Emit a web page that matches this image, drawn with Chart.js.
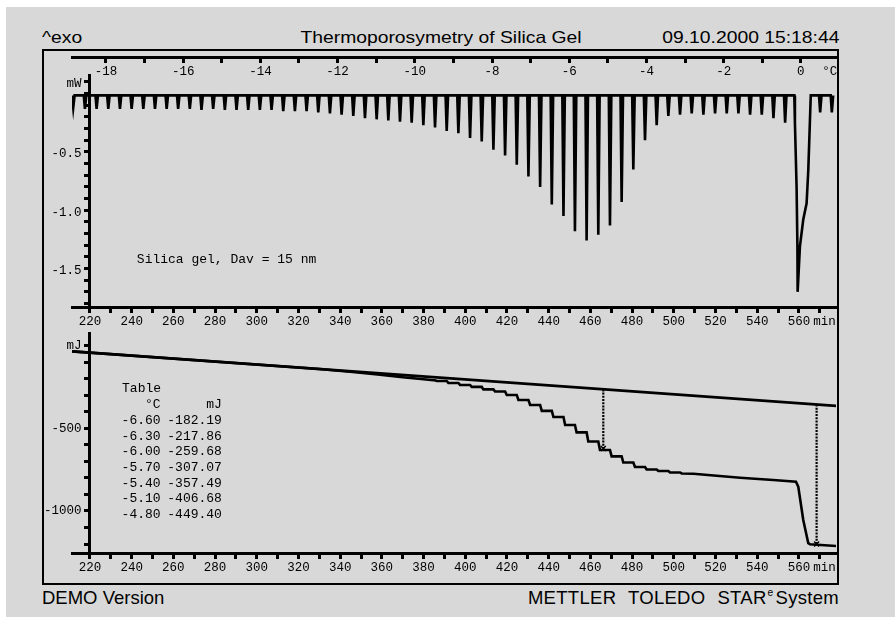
<!DOCTYPE html>
<html lang="en">
<head>
<meta charset="UTF-8">
<title>Thermoporosymetry of Silica Gel</title>
<script src="https://cdn.jsdelivr.net/npm/chart.js@4"></script>
<style>
  body { margin: 0; width: 895px; height: 618px; position: relative; overflow: hidden; background: #fff;
         font-family: "Liberation Sans", Arial, sans-serif; color: #000; }
  #sheet { position: absolute; left: 6px; top: 7px; right: 0; bottom: 1px; background: #d8d8d8; }
  #frame { position: absolute; left: 42px; top: 49px; width: 797px; height: 536px; border: 2px solid #000; box-sizing: border-box; }
  .hdr { position: absolute; top: 29px; font-size: 16.5px; line-height: 1; white-space: pre; }
  #exo { left: 42px; transform: scaleX(1.17); transform-origin: left; }
  #title { left: 440.5px; transform: translateX(-50%) scaleX(1.17); }
  #stamp { right: 56px; transform: scaleX(1.17); transform-origin: right; }
  .ftr { position: absolute; top: 589px; font-size: 18.5px; line-height: 1; white-space: pre; }
  #demo { left: 42px; }
  #brand { right: 56px; word-spacing: 6.5px; letter-spacing: 0.3px; }
  #brand sup { font-size: 0.55em; position: relative; top: -0.1em; margin: 0 2px 0 1px; }
  canvas { position: absolute; left: 0; top: 0; }
</style>
</head>
<body>
  <div id="sheet"></div>
  <div id="frame"></div>
  <div class="hdr" id="exo">^exo</div>
  <div class="hdr" id="title">Thermoporosymetry of Silica Gel</div>
  <div class="hdr" id="stamp">09.10.2000 15:18:44</div>
  <div class="ftr" id="demo">DEMO Version</div>
  <div class="ftr" id="brand">METTLER TOLEDO STAR<sup>e</sup>System</div>
  <canvas id="dsc" width="895" height="618"></canvas>
  <canvas id="integral" width="895" height="618"></canvas>
  <script>
    // ---- axes ----
    const timeMin = 211.4, timeMax = 577.8;
    const tempMin = -18.88, tempMax = 0.91;
    const mwMin = -1.83, mwMax = 0.16;
    const mjMin = -1254, mjMax = 76;
    const tempAxisLevel = 0.313;

    const timeTicks = [220, 230, 240, 250, 260, 270, 280, 290, 300, 310, 320, 330, 340, 350, 360, 370, 380, 390,
      400, 410, 420, 430, 440, 450, 460, 470, 480, 490, 500, 510, 520, 530, 540, 550, 560, 570];
    const timeLabels = [220, 240, 260, 280, 300, 320, 340, 360, 380, 400, 420, 440, 460, 480, 500, 520, 540, 560];
    const tempTicks = [-18, -17, -16, -15, -14, -13, -12, -11, -10, -9, -8, -7, -6, -5, -4, -3, -2, -1, 0];
    const tempLabels = [-18, -16, -14, -12, -10, -8, -6, -4, -2, 0];
    const mwTicks = [0.1, 0, -0.1, -0.2, -0.3, -0.4, -0.5, -0.6, -0.7, -0.8, -0.9, -1.0, -1.1, -1.2, -1.3,
      -1.4, -1.5, -1.6, -1.7, -1.8];
    const mwLabelValues = [0.1, -0.5, -1.0, -1.5];
    const mwLabelTexts = ['mW', '-0.5', '-1.0', '-1.5'];
    const mjTicks = [0, -100, -200, -300, -400, -500, -600, -700, -800, -900, -1000, -1100, -1200];
    const mjLabelValues = [0, -500, -1000];
    const mjLabelTexts = ['mJ', '-500', '-1000'];

    // ---- DSC signal (mW): one peak per 0.3 °C heating step ----
    const mwBaseline = -0.015;
    const peakTimes = [212.0, 217.6, 223.2, 228.8, 234.4, 240.0, 245.6, 251.2, 256.8, 262.3, 267.9,
      273.5, 279.1, 284.7, 290.3, 295.9, 301.5, 307.1, 312.7, 318.3, 323.9, 329.5,
      335.1, 340.7, 346.3, 351.9, 357.5, 363.1, 368.7, 374.3, 379.9, 385.5,
      391.1, 396.7, 402.3, 407.9, 413.5, 419.1, 424.7, 430.3, 435.9, 441.5,
      447.1, 452.6, 458.2, 463.8, 469.4, 475.0, 480.6, 486.2, 491.8, 497.4,
      503.0, 508.6, 514.2, 519.8, 525.4, 531.0, 536.6, 542.2, 547.8, 553.4,
      570.2, 575.8];
    const peakDepths = [-0.12, -0.13, -0.13, -0.13, -0.13, -0.13, -0.13, -0.13, -0.13, -0.13, -0.13,
      -0.14, -0.13, -0.14, -0.14, -0.14, -0.14, -0.14, -0.15, -0.15, -0.15, -0.16,
      -0.17, -0.18, -0.19, -0.21, -0.22, -0.23, -0.24, -0.25, -0.27, -0.29,
      -0.32, -0.34, -0.38, -0.41, -0.48, -0.53, -0.61, -0.71, -0.80, -0.95,
      -1.05, -1.18, -1.26, -1.21, -1.13, -0.93, -0.65, -0.40, -0.27, -0.19,
      -0.18, -0.17, -0.18, -0.17, -0.17, -0.17, -0.18, -0.18, -0.21, -0.25,
      -0.16, -0.16];
    const meltTimes = [557.8, 558.1, 558.9, 559.3, 559.4, 560.5, 562.1, 563.7, 564.5, 565.3, 565.7];
    const meltValues = [-0.015, -0.25, -0.80, -1.32, -1.70, -1.31, -1.08, -0.94, -0.66, -0.23, -0.015];

    // ---- integral (mJ) ----
    const baselineTimes = [211.4, 577.8];
    const baselineEnergy = [-35.2, -364.6];
    const integralLeadTimes = [211.4, 330.0, 346.0, 358.0, 370.0, 380.0, 384.7];
    const integralLeadEnergy = [-35.2, -141.8, -160, -175, -192, -204, -210];
    const stepTimes = [385.5, 391.1, 396.7, 402.3, 407.9, 413.5, 419.1, 424.7, 430.3, 435.9, 441.5,
      447.1, 452.6, 458.2, 463.8, 469.4, 475.0, 480.6, 486.2, 491.8, 497.4, 503.0];
    const stepLevels = [-214, -226, -238, -250, -265, -278, -299, -329, -359, -395, -432,
      -480, -525, -580, -631, -670, -707, -734, -749, -758, -767, -773];
    const integralTailTimes = [509.4, 531.8, 547.7, 558.6, 559.7, 562.1, 564.5, 565.3, 577.8];
    const integralTailEnergy = [-775, -799, -813, -823, -853, -1054, -1195, -1201, -1212];
    const cutTimes = [466.2, 568.5];
    const cutTop = [-265, -356];
    const cutBottom = [-622, -1200];

    const tableTemp = [-6.60, -6.30, -6.00, -5.70, -5.40, -5.10, -4.80];
    const tableEnergy = [-182.19, -217.86, -259.68, -307.07, -357.49, -406.68, -449.40];

    // ---- build series ----
    const mwPoints = [];
    peakTimes.forEach((t, i) => {
      mwPoints.push({ x: t - 0.55, y: mwBaseline });
      mwPoints.push({ x: t, y: peakDepths[i] });
      mwPoints.push({ x: t + 0.65, y: mwBaseline });
    });
    meltTimes.forEach((t, i) => mwPoints.push({ x: t, y: meltValues[i] }));
    mwPoints.sort((a, b) => a.x - b.x);

    const integralPoints = integralLeadTimes.map((t, i) => ({ x: t, y: integralLeadEnergy[i] }));
    let level = integralLeadEnergy[integralLeadEnergy.length - 1];
    stepTimes.forEach((t, i) => {
      integralPoints.push({ x: t, y: level });
      level = stepLevels[i];
      integralPoints.push({ x: t + 0.8, y: level });
    });
    integralTailTimes.forEach((t, i) => integralPoints.push({ x: t, y: integralTailEnergy[i] }));

    // ---- look ----
    const monoName = '"Liberation Mono", "DejaVu Sans Mono", monospace';
    const mono = { family: monoName, size: 12.5 };
    const tickFont = '12.5px ' + monoName;

    function axis(extra) {
      return Object.assign({
        type: 'linear',
        grid: { display: true, drawOnChartArea: false, drawTicks: true, tickLength: 4, tickWidth: 3, tickColor: '#000' },
        border: { display: true, color: '#000', width: 3 },
        ticks: { color: '#000', font: mono, padding: 3, maxRotation: 0, autoSkip: false }
      }, extra);
    }

    function fixedTicks(values) {
      return (scale) => { scale.ticks = values.map((v) => ({ value: v })); };
    }

    function labelsOnly(values) {
      return Object.assign({}, axis().ticks, { callback: (v) => (values.includes(v) ? String(v) : '') });
    }

    // free text placed in data coordinates
    function notes(items) {
      return {
        id: 'notes',
        afterDraw(chart) {
          const ctx = chart.ctx;
          ctx.save();
          ctx.fillStyle = '#000';
          ctx.textBaseline = 'middle';
          items.forEach((it) => {
            ctx.font = it.font || '13px ' + monoName;
            ctx.textAlign = it.align || 'left';
            const x = chart.scales[it.xs || 'x'].getPixelForValue(it.x) + (it.dx || 0);
            const y = chart.scales.y.getPixelForValue(it.y) + (it.dy || 0);
            ctx.fillText(it.text, x, y);
          });
          ctx.restore();
        }
      };
    }

    function yLabelNotes(values, texts, dy) {
      return values.map((v, i) => ({ text: texts[i], x: 220, dx: -8.5, y: v, dy: dy, align: 'right', font: tickFont }));
    }

    const common = {
      responsive: false,
      animation: false,
      events: [],
      plugins: { legend: { display: false }, tooltip: { enabled: false } },
      elements: { point: { radius: 0 }, line: { tension: 0 } }
    };

    // ---- top: DSC curve ----
    new Chart(document.getElementById('dsc'), {
      type: 'line',
      data: {
        datasets: [{ data: mwPoints, borderColor: '#000', borderWidth: 2.6, fill: false }]
      },
      options: Object.assign({}, common, {
        layout: { padding: { left: 72, right: 59, top: 75, bottom: 311 } },
        scales: {
          x: axis({
            min: timeMin, max: timeMax, position: { y: mwMin },
            afterBuildTicks: fixedTicks(timeTicks), ticks: labelsOnly(timeLabels)
          }),
          temp: axis({
            axis: 'x', min: tempMin, max: tempMax, position: { y: tempAxisLevel },
            afterBuildTicks: fixedTicks(tempTicks), ticks: labelsOnly(tempLabels)
          }),
          y: axis({
            min: mwMin, max: mwMax, position: { x: 220 },
            afterBuildTicks: fixedTicks(mwTicks), ticks: labelsOnly([])
          })
        }
      }),
      plugins: [notes([
        { text: 'Silica gel, Dav = 15 nm', x: 242.5, y: -1.42 },
        { text: '°C', xs: 'temp', x: 0.75, y: tempAxisLevel, dy: 15, align: 'center', font: tickFont },
        { text: 'min', x: 572.3, y: mwMin, dy: 15, align: 'center', font: tickFont }
      ].concat(yLabelNotes(mwLabelValues, mwLabelTexts, 2)))]
    });

    // ---- bottom: integral ----
    const tableNotes = [{ text: 'Table', x: 235.4, y: -262.6 },
      { text: '°C', x: 253.9, y: -262.6, dy: 15.7, align: 'right' },
      { text: 'mJ', x: 283.3, y: -262.6, dy: 15.7, align: 'right' }];
    tableTemp.forEach((t, i) => {
      tableNotes.push({ text: t.toFixed(2), x: 253.9, y: -262.6, dy: 15.7 * (i + 2), align: 'right' });
      tableNotes.push({ text: tableEnergy[i].toFixed(2), x: 283.3, y: -262.6, dy: 15.7 * (i + 2), align: 'right' });
    });
    tableNotes.push({ text: 'min', x: 572.3, y: mjMin, dy: 15, align: 'center', font: tickFont });

    const cutSets = cutTimes.map((t, i) => ({
      data: [{ x: t, y: cutTop[i] }, { x: t, y: cutBottom[i] }],
      borderColor: '#000', borderWidth: 2.2, borderDash: [2, 1.2], fill: false,
      pointRadius: [0, 3.5], pointStyle: 'crossRot', pointBorderColor: '#000', pointBorderWidth: 1.5
    }));

    new Chart(document.getElementById('integral'), {
      type: 'line',
      data: {
        datasets: [
          { data: baselineTimes.map((t, i) => ({ x: t, y: baselineEnergy[i] })), borderColor: '#000', borderWidth: 2.6, fill: false },
          { data: integralPoints, borderColor: '#000', borderWidth: 2.6, fill: false }
        ].concat(cutSets)
      },
      options: Object.assign({}, common, {
        layout: { padding: { left: 72, right: 59, top: 333, bottom: 65 } },
        scales: {
          x: axis({
            min: timeMin, max: timeMax, position: { y: mjMin },
            afterBuildTicks: fixedTicks(timeTicks), ticks: labelsOnly(timeLabels)
          }),
          y: axis({
            min: mjMin, max: mjMax, position: { x: 220 },
            afterBuildTicks: fixedTicks(mjTicks), ticks: labelsOnly([])
          })
        }
      }),
      plugins: [notes(tableNotes.concat(yLabelNotes(mjLabelValues, mjLabelTexts, 0)))]
    });
  </script>
</body>
</html>
